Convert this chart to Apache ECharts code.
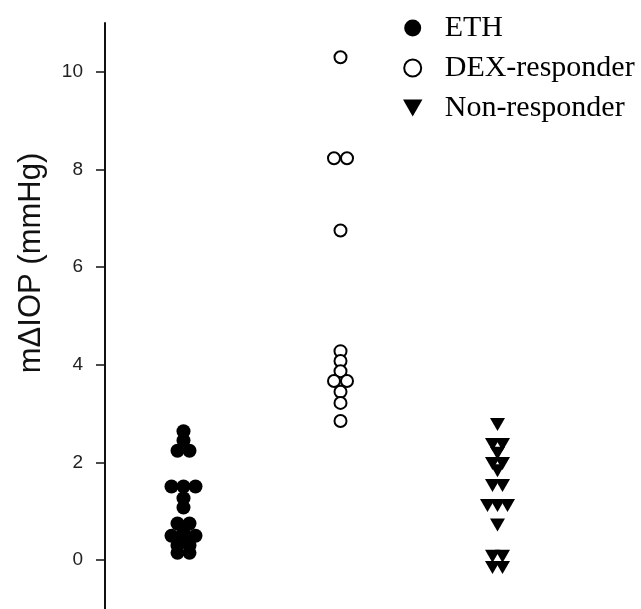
<!DOCTYPE html>
<html>
<head>
<meta charset="utf-8">
<script src="https://cdn.jsdelivr.net/npm/echarts@6/dist/echarts.min.js"></script>
<style>
html,body{margin:0;padding:0;background:#fff;}
#chart{width:641px;height:609px;}
</style>
</head>
<body>
<div id="chart"></div>
<script>
// ---- data ----
const categories = ['ETH', 'DEX-responder', 'Non-responder'];
const ethValues = [2.64, 2.45, 2.24, 2.24, 1.51, 1.51, 1.51, 1.27, 1.08,
                   0.75, 0.75, 0.62, 0.5, 0.5, 0.5, 0.3, 0.3, 0.15, 0.15];
const dexValues = [10.3, 8.23, 8.23, 6.75, 4.28, 4.08, 3.87, 3.67, 3.67, 3.45, 3.22, 2.85];
const nonValues = [2.78, 2.37, 2.37, 2.19, 1.98, 1.98, 1.83, 1.53, 1.53,
                   1.12, 1.12, 1.12, 0.72, 0.08, 0.08, -0.15, -0.15];
const yTicks = [0, 2, 4, 6, 8, 10];
const yAxisTitle = 'm\u0394IOP (mmHg)';

// dot-plot layout: points sharing a value are spread symmetrically
function swarm(values, catIndex, stepPx) {
  const counts = {}, seen = {};
  values.forEach(v => { counts[v] = (counts[v] || 0) + 1; });
  return values.map(v => {
    const k = seen[v] || 0; seen[v] = k + 1;
    const off = (k - (counts[v] - 1) / 2) * stepPx;
    return { value: [catIndex + 1, v], symbolOffset: [off, 0] };
  });
}

const downTriangle = 'path://M0,0 L16,0 L8,14 Z';

const chart = echarts.init(document.getElementById('chart'), null, {renderer: 'canvas'});
chart.setOption({
  animation: false,
  backgroundColor: '#ffffff',
  grid: { left: 105, top: 23, width: 471, height: 587, containLabel: false },
  legend: {
    orient: 'vertical',
    left: 398, top: 8,
    itemWidth: 54, itemHeight: 17, itemGap: 10,
    textStyle: { fontFamily: 'Liberation Serif', fontSize: 30, color: '#000', lineHeight: 30 },
    data: categories
  },
  xAxis: {
    type: 'value', min: 0.5, max: 3.5, show: false
  },
  yAxis: {
    type: 'value', min: -1, max: 11,
    axisLine: { show: true, onZero: false, lineStyle: { color: '#111', width: 2 } },
    axisTick: { show: true, length: 9, customValues: yTicks, lineStyle: { color: '#111', width: 1.5 } },
    axisLabel: { customValues: yTicks, margin: 22, fontFamily: 'Liberation Sans', fontSize: 19, color: '#222' },
    splitLine: { show: false }
  },
  graphic: [{
    type: 'text',
    x: 31, y: 263,
    rotation: Math.PI / 2,
    style: {
      text: yAxisTitle,
      font: '31px "Liberation Sans", Arial, sans-serif',
      fill: '#111',
      align: 'center',
      verticalAlign: 'middle'
    }
  }],
  series: [
    {
      name: categories[0], type: 'scatter', symbol: 'circle', symbolSize: 14,
      itemStyle: { color: '#000', opacity: 1 },
      data: swarm(ethValues, 0, 12)
    },
    {
      name: categories[1], type: 'scatter', symbol: 'circle', symbolSize: 12,
      itemStyle: { color: '#fff', borderColor: '#000', borderWidth: 2, opacity: 1 },
      data: swarm(dexValues, 1, 13)
    },
    {
      name: categories[2], type: 'scatter', symbol: downTriangle, symbolSize: [15, 13],
      itemStyle: { color: '#000', opacity: 1 },
      data: swarm(nonValues, 2, 10)
    }
  ]
});
</script>
</body>
</html>
